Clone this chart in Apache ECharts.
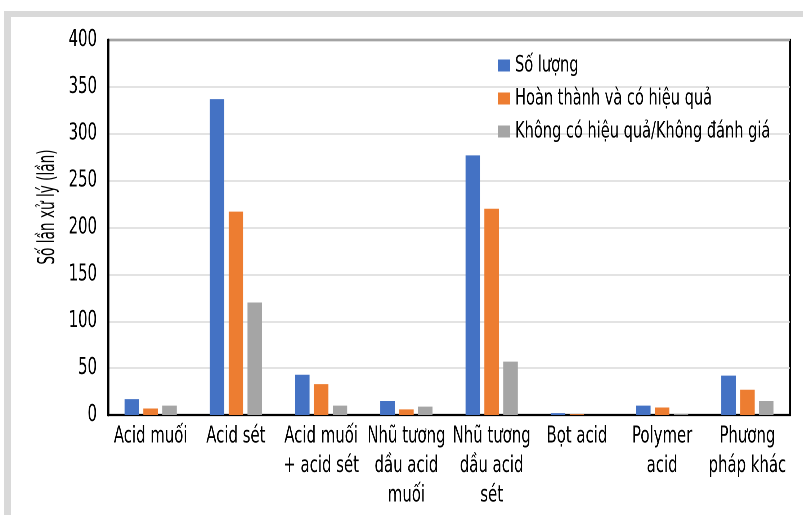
<!DOCTYPE html>
<html>
<head>
<meta charset="utf-8">
<script src="https://cdn.jsdelivr.net/npm/echarts@6/dist/echarts.min.js"></script>
<style>
  html, body { margin: 0; padding: 0; background: #ffffff; overflow: hidden; width: 803px; height: 515px; }
  /* The chart is laid out on a wider canvas and narrowed horizontally so the
     text gets a condensed look; all marks still come from the axes. */
  #chart { width: 1115px; height: 515px; transform: scaleX(0.7202); transform-origin: 0 0; }
</style>
</head>
<body>
<div id="chart"></div>
<script>
// Treatment methods (x categories)
const categories = [
  'Acid muối',
  'Acid sét',
  'Acid muối\n+ acid sét',
  'Nhũ tương\ndầu acid\nmuối',
  'Nhũ tương\ndầu acid\nsét',
  'Bọt acid',
  'Polymer\nacid',
  'Phương\npháp khác'
];

// Number of treatments per method
const soLuong = [17, 337, 43, 15, 277, 2, 10, 42];
const hoanThanh = [7, 217, 33, 6, 220, 1, 8, 27];
const khongHieuQua = [10, 120, 10, 9, 57, 0, 1, 15];

const seriesNames = ['Số lượng', 'Hoàn thành và có hiệu quả', 'Không có hiệu quả/Không đánh giá'];
const yTicks = { min: 0, max: 400, interval: 50 };
const yAxisTitle = 'Số lần xử lý (lần)';

const SX = 0.7202;               // horizontal squeeze applied to the container
const px = v => v / SX;          // screen-x distance -> chart-x distance

const FONT = '"DejaVu Sans Condensed", "DejaVu Sans", sans-serif';
const colors = ['#4472C4', '#ED7D31', '#A5A5A5'];

const chart = echarts.init(document.getElementById('chart'), null, { renderer: 'canvas', devicePixelRatio: 2 });

const makeBar = (name, data) => ({
  name: name,
  type: 'bar',
  data: data,
  barWidth: px(14.5),
  barGap: '30%',
  emphasis: { disabled: true }
});

chart.setOption({
  animation: false,
  color: colors,
  textStyle: { fontFamily: FONT, color: '#000' },
  graphic: [
    { type: 'rect', z: -1, shape: { x: px(4), y: 11, width: px(799), height: 6 }, style: { fill: '#d9d9d9' } },
    { type: 'rect', z: -1, shape: { x: px(4), y: 11, width: px(7), height: 504 }, style: { fill: '#d9d9d9' } },
    {
      // vertical axis title, kept upright-proportioned inside the squeezed container
      type: 'text',
      x: px(48),
      y: 207,
      rotation: Math.PI / 2,
      scaleX: 0.66,
      scaleY: 1 / SX,
      style: {
        text: yAxisTitle,
        fontFamily: FONT,
        fontSize: 23,
        fill: '#000',
        align: 'center',
        verticalAlign: 'middle'
      }
    }
  ],
  grid: {
    left: px(108), top: 40, right: px(13), bottom: 100,
    show: true, borderColor: '#000', borderWidth: 2.2, backgroundColor: 'transparent'
  },
  legend: {
    data: seriesNames,
    orient: 'vertical',
    left: px(498),
    top: 54,
    padding: 0,
    itemWidth: px(12),
    itemHeight: 12,
    itemGap: 10,
    icon: 'rect',
    textStyle: { fontFamily: FONT, fontSize: 22.5, color: '#000', padding: [0, 0, 0, 2] }
  },
  xAxis: {
    type: 'category',
    data: categories,
    axisLine: { show: true, lineStyle: { color: '#000', width: 2 } },
    axisTick: { show: false },
    axisLabel: {
      interval: 0,
      fontFamily: FONT,
      fontSize: 23,
      lineHeight: 29.5,
      color: '#000',
      margin: 7,
      verticalAlign: 'top'
    }
  },
  yAxis: {
    type: 'value',
    min: yTicks.min,
    max: yTicks.max,
    interval: yTicks.interval,
    axisLine: { show: true, lineStyle: { color: '#000', width: 2.8 } },
    axisTick: { show: false },
    axisLabel: { fontFamily: FONT, fontSize: 23, color: '#000', margin: px(11) },
    splitLine: { show: true, lineStyle: { color: '#d9d9d9', width: 1.5 } }
  },
  series: [
    makeBar(seriesNames[0], soLuong),
    makeBar(seriesNames[1], hoanThanh),
    makeBar(seriesNames[2], khongHieuQua)
  ]
});
</script>
</body>
</html>
